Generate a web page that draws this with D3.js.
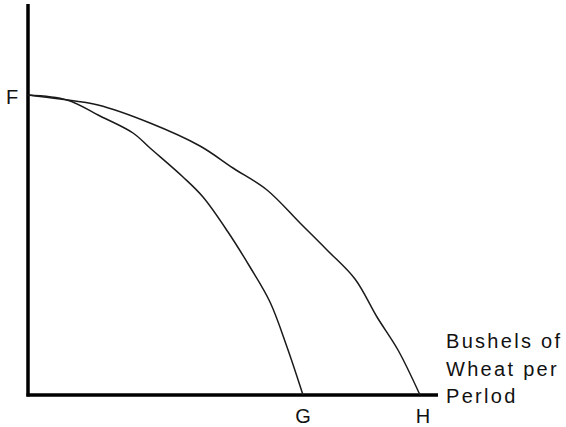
<!DOCTYPE html>
<html>
<head>
<meta charset="utf-8">
<script src="https://cdn.jsdelivr.net/npm/d3@7"></script>
<style>
  html, body { margin: 0; padding: 0; background: #fff; }
  text { font-family: "Liberation Sans", Arial, sans-serif; font-size: 20px; fill: #111; }
</style>
</head>
<body>
<div id="chart"></div>
<script>
// production possibilities curves, units
var innerCurve = [[0, 30], [3.9, 29.5], [7.2, 27.9], [10.5, 26.2], [12.2, 24.7], [15.5, 21.8],
  [17.5, 19.8], [20, 16.3], [22.2, 12.8], [24.2, 9.3], [25.9, 4.8], [27.5, 0]];
var outerCurve = [[0, 30], [3.2, 29.6], [7, 29], [12.2, 27.2], [17.2, 24.9], [20.5, 22.7],
  [23.9, 20.5], [27.2, 17.2], [29.9, 14.5], [32.7, 11.6], [34.9, 7.8],
  [37, 4.5], [39.2, 0]];
var pointLabels = [{ text: "F", x: 0, y: 30, axis: "y" },
  { text: "G", x: 27.5, y: 0, axis: "x" },
  { text: "H", x: 39.5, y: 0, axis: "x" }];
var xTitle = ["Bushels of", "Wheat per", "Perlod"];

function init() {
  var width = 566;
  var height = 427;

  var x = d3.scaleLinear().domain([0, 41]).range([28, 438]);
  var y = d3.scaleLinear().domain([0, 39.1]).range([395, 4]);

  var svg = d3.select("#chart")
    .append("svg")
    .attr("width", width)
    .attr("height", height);

  // axes
  svg.append("line")
    .attr("x1", x(0)).attr("y1", y(39.1))
    .attr("x2", x(0)).attr("y2", y(0) + 1.5)
    .attr("stroke", "#000").attr("stroke-width", 3.5);
  svg.append("line")
    .attr("x1", x(0) - 1.5).attr("y1", y(0))
    .attr("x2", x(41)).attr("y2", y(0))
    .attr("stroke", "#000").attr("stroke-width", 3.5);

  var line = d3.line()
    .x(function(d) { return x(d[0]); })
    .y(function(d) { return y(d[1]); })
    .curve(d3.curveCatmullRom);

  svg.selectAll("path.ppc")
    .data([innerCurve, outerCurve])
    .enter()
    .append("path")
    .attr("class", "ppc")
    .attr("d", line)
    .attr("fill", "none")
    .attr("stroke", "#1a1a1a")
    .attr("stroke-width", 1.5);

  svg.selectAll("text.pt")
    .data(pointLabels)
    .enter()
    .append("text")
    .attr("class", "pt")
    .attr("x", function(d) { return d.axis == "y" ? x(d.x) - 16 : x(d.x); })
    .attr("y", function(d) { return d.axis == "y" ? y(d.y) + 9 : y(d.y) + 28; })
    .attr("text-anchor", "middle")
    .text(function(d) { return d.text; });

  svg.selectAll("text.title")
    .data(xTitle)
    .enter()
    .append("text")
    .attr("class", "title")
    .attr("x", 446)
    .attr("y", function(d, i) { return 348 + i * 27.5; })
    .style("letter-spacing", "2.3px")
    .text(function(d) { return d; });
}

window.onload = init;
</script>
</body>
</html>
